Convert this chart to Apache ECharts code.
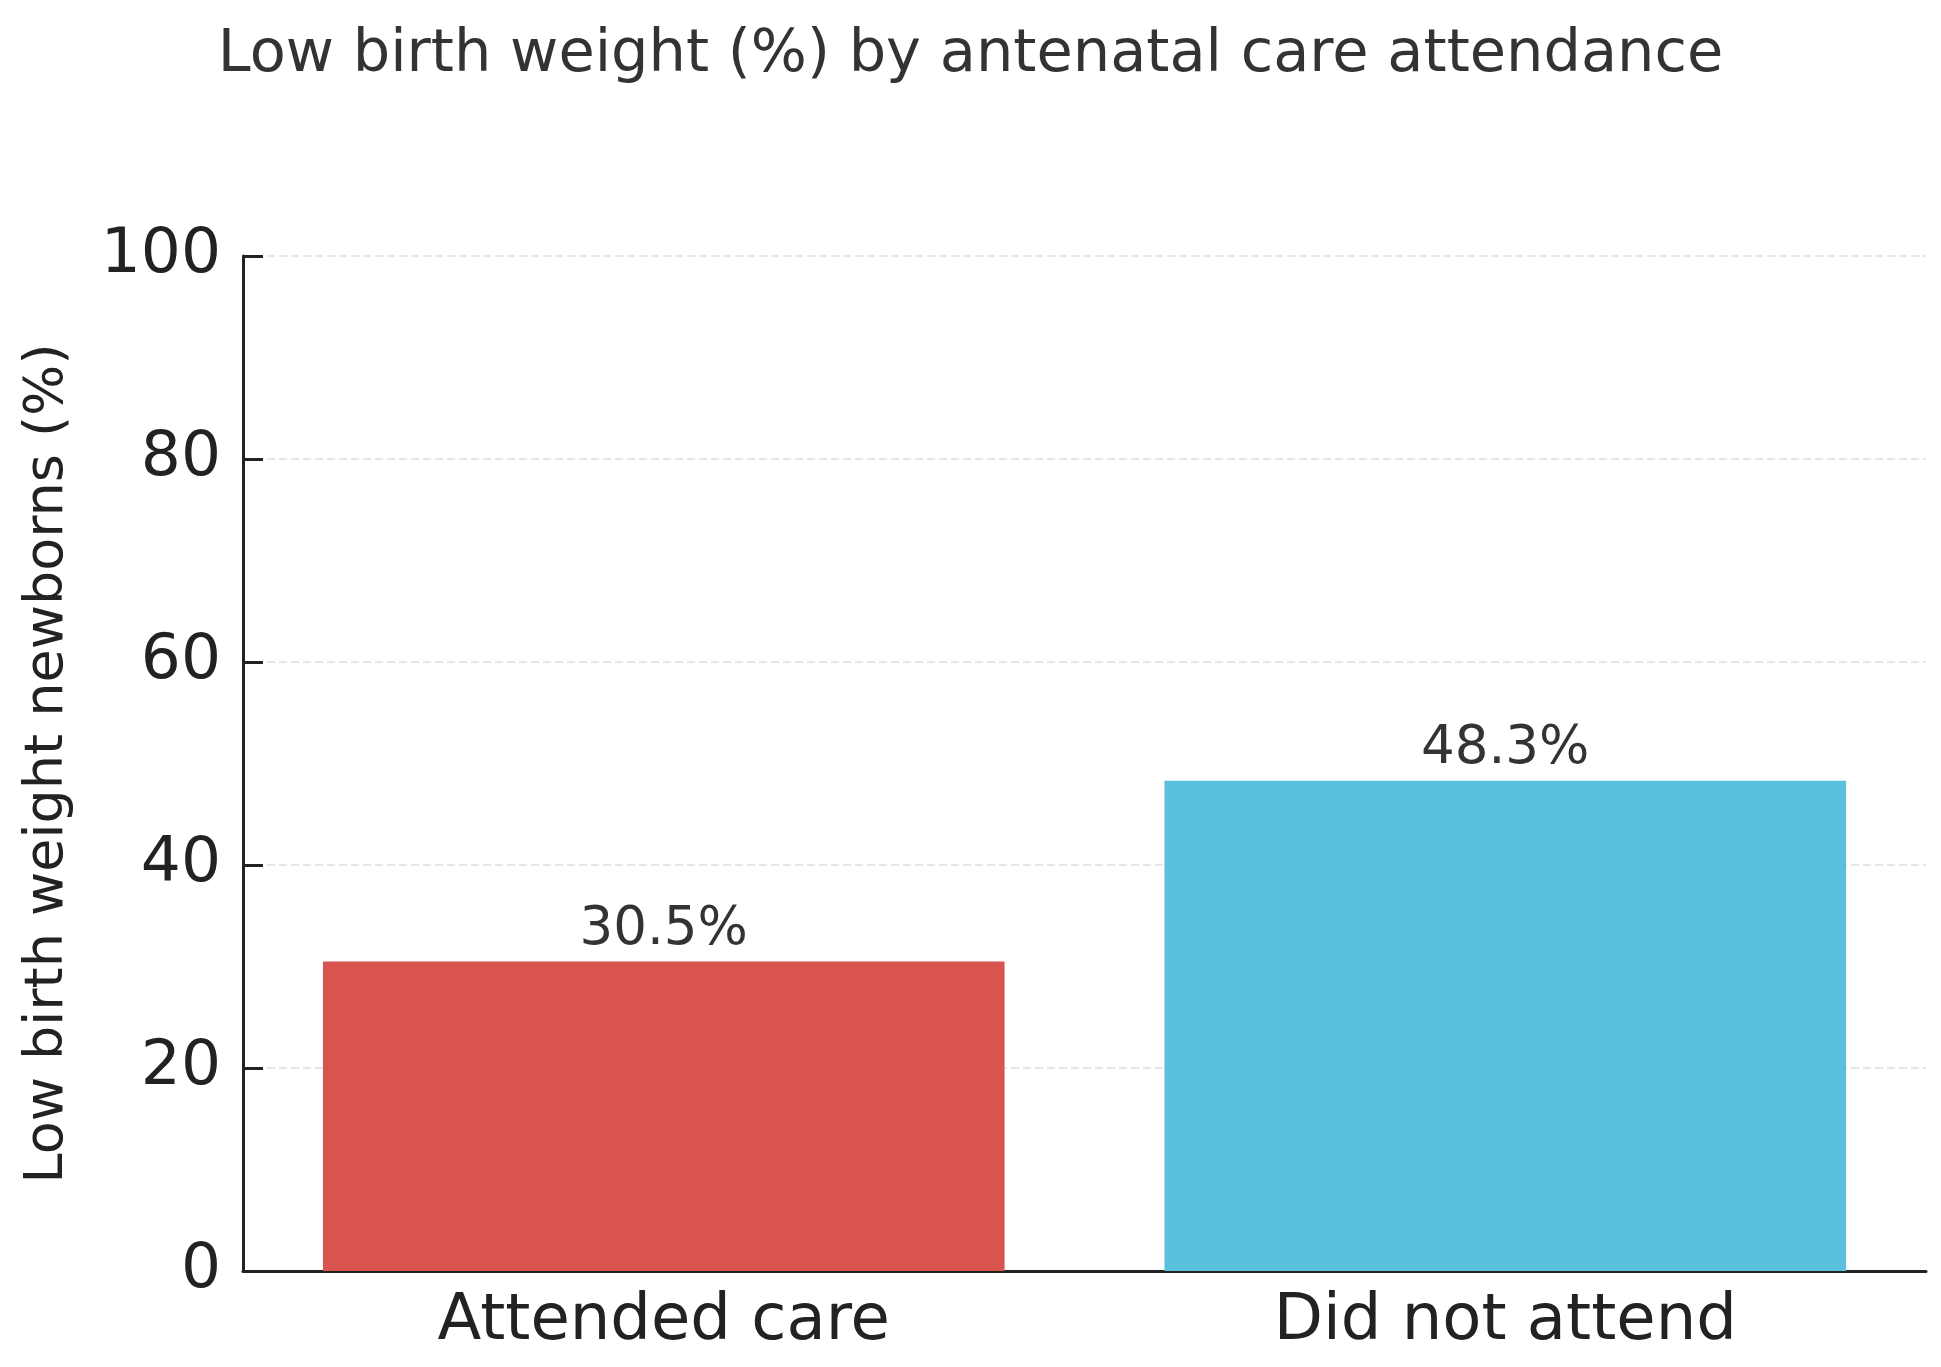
<!DOCTYPE html>
<html>
<head>
<meta charset="utf-8">
<script src="https://cdn.jsdelivr.net/npm/echarts@6/dist/echarts.min.js"></script>
<style>
html,body{margin:0;padding:0;background:#fff;}
#chart{width:1941px;height:1367px;}
</style>
</head>
<body>
<div id="chart"></div>
<script>
const categories = ['Attended care', 'Did not attend'];
const values = [30.5, 48.3];
const barColors = ['#d9534f', '#5bc0de'];
const yTicks = [0, 20, 40, 60, 80, 100];

const chart = echarts.init(document.getElementById('chart'), null, {renderer: 'canvas'});
const font = 'DejaVu Sans';
chart.setOption({
  backgroundColor: '#ffffff',
  animation: false,
  title: {
    text: 'Low birth weight (%) by antenatal care attendance',
    left: 'center',
    top: 21,
    textStyle: {fontFamily: font, fontSize: 59, fontWeight: 'normal', color: '#333333'}
  },
  grid: {left: 243, right: 15, top: 256, bottom: 96, containLabel: false},
  xAxis: {
    type: 'category',
    data: categories,
    axisLine: {show: true, lineStyle: {color: '#222222', width: 3}},
    axisTick: {show: false},
    axisLabel: {fontFamily: font, fontSize: 64, color: '#222222', margin: 19}
  },
  yAxis: {
    type: 'value',
    min: yTicks[0],
    max: yTicks[yTicks.length - 1],
    interval: 20,
    name: 'Low birth weight newborns (%)',
    nameLocation: 'middle',
    nameGap: 168,
    nameTextStyle: {fontFamily: font, fontSize: 54, color: '#222222'},
    axisLine: {show: true, lineStyle: {color: '#222222', width: 3}},
    axisTick: {show: true, inside: true, length: 20, lineStyle: {color: '#222222', width: 3}},
    axisLabel: {fontFamily: font, fontSize: 63, color: '#222222', margin: 22},
    splitLine: {show: true, lineStyle: {color: '#e6e6e6', width: 2, type: 'dashed'}}
  },
  series: [{
    type: 'bar',
    data: values.map((v, i) => ({value: v, itemStyle: {color: barColors[i]}})),
    barWidth: '81%',
    label: {
      show: true,
      position: 'top',
      distance: 5,
      formatter: p => p.value.toFixed(1) + '%',
      fontFamily: font,
      fontSize: 53,
      color: '#333333'
    }
  }]
});
</script>
</body>
</html>
